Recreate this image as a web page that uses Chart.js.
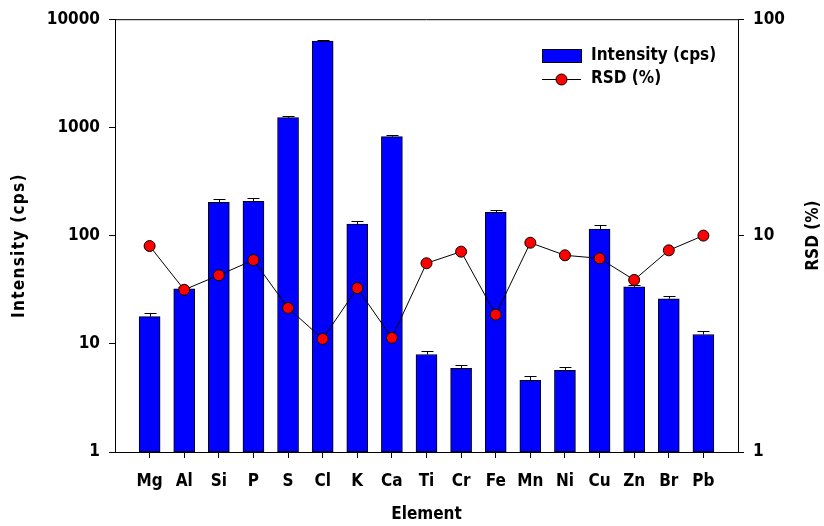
<!DOCTYPE html>
<html>
<head>
<meta charset="utf-8">
<script src="https://cdn.jsdelivr.net/npm/chart.js@4.4.1/dist/chart.umd.min.js"></script>
<style>
    html, body {margin: 0; padding: 0; background: #fff;}
    #wrap {width: 824px; height: 526px; position: relative;}
</style>
</head>
<body>
<div id="wrap"><canvas id="elementChart"></canvas></div>
<script>
// ── data ──────────────────────────────────────────────────
const elements = ['Mg', 'Al', 'Si', 'P', 'S', 'Cl', 'K', 'Ca', 'Ti', 'Cr', 'Fe', 'Mn', 'Ni', 'Cu', 'Zn', 'Br', 'Pb'];
const intensity = [17.8, 32.2, 203, 207, 1230, 6280, 128, 822, 7.96, 5.92, 164, 4.59, 5.68, 115, 33.6, 26.1, 12.2];
const intensityErr = [1.6, 1.2, 14, 15, 45, 150, 7, 25, 0.7, 0.5, 7, 0.45, 0.45, 10, 1.5, 1.8, 1.0];
const rsd = [8.95, 5.62, 6.56, 7.71, 4.63, 3.33, 5.72, 3.37, 7.45, 8.43, 4.31, 9.27, 8.11, 7.85, 6.24, 8.55, 10.0];
const leftTicks = [1, 10, 100, 1000, 10000];
const rightTicks = [1, 10, 100];

const FONT = '"DejaVu Sans Condensed", "DejaVu Sans", sans-serif';
const boldFont = size => ({family: FONT, size: size, weight: 'bold'});

// ── error bars (upper whisker only, the bar hides the lower half) ──
const errorBars = {
    id: 'errorBars',
    afterDatasetDraw(chart, args) {
        if (args.index !== 0) return;
        const {ctx, scales: {x, y}} = chart;
        ctx.save();
        ctx.strokeStyle = '#000';
        ctx.lineWidth = 1;
        intensity.forEach((v, i) => {
            const px = Math.round(x.getPixelForValue(i + 1)) + 0.5;
            const y0 = y.getPixelForValue(v);
            const y1 = Math.round(y.getPixelForValue(v + intensityErr[i])) + 0.5;
            ctx.beginPath();
            ctx.moveTo(px, y0);
            ctx.lineTo(px, y1);
            ctx.moveTo(px - 6, y1);
            ctx.lineTo(px + 6, y1);
            ctx.stroke();
        });
        ctx.restore();
    }
};

// ── frame top line, y titles and in-plot legend ──
const decorations = {
    id: 'decorations',
    afterDraw(chart) {
        const {ctx, chartArea: a} = chart;
        ctx.save();
        ctx.strokeStyle = '#000';
        ctx.lineWidth = 1;
        ctx.beginPath();
        ctx.moveTo(a.left, a.top + 0.5);
        ctx.lineTo(a.right, a.top + 0.5);
        ctx.stroke();

        // both y titles read bottom-to-top
        ctx.fillStyle = '#000';
        ctx.font = 'bold 17px ' + FONT;
        ctx.textAlign = 'center';
        ctx.textBaseline = 'middle';
        ctx.save();
        ctx.translate(814, (a.top + a.bottom) / 2);
        ctx.rotate(-Math.PI / 2);
        ctx.fillText('RSD (%)', 0, 0);
        ctx.restore();
        ctx.save();
        ctx.translate(20, (a.top + a.bottom) / 2 + 10);
        ctx.rotate(-Math.PI / 2);
        ctx.letterSpacing = '1.3px';
        ctx.fillText('Intensity (cps)', 0, 0);
        ctx.restore();

        // legend
        const lx = a.right - 196, ly = 49;
        const bar = chart.data.datasets[0], line = chart.data.datasets[1];
        ctx.fillStyle = bar.backgroundColor;
        ctx.fillRect(lx, ly, 39, 13);
        ctx.strokeRect(lx + 0.5, ly + 0.5, 39, 13);
        ctx.beginPath();
        ctx.moveTo(lx, ly + 30.5);
        ctx.lineTo(lx + 39, ly + 30.5);
        ctx.stroke();
        ctx.beginPath();
        ctx.arc(lx + 19.5, ly + 30.5, line.pointRadius, 0, Math.PI * 2);
        ctx.fillStyle = line.pointBackgroundColor;
        ctx.fill();
        ctx.stroke();
        ctx.fillStyle = '#000';
        ctx.textAlign = 'left';
        ctx.fillText(bar.label, lx + 49, ly + 7);
        ctx.fillText(line.label, lx + 49, ly + 30);
        ctx.restore();
    }
};

const canvas = document.getElementById('elementChart');
new Chart(canvas, {
    data: {
        datasets: [
            {
                type: 'bar',
                label: 'Intensity (cps)',
                data: intensity.map((v, i) => ({x: i + 1, y: v})),
                backgroundColor: '#0000ff',
                borderColor: '#000',
                borderWidth: 1,
                borderSkipped: false,
                barThickness: 21,
                yAxisID: 'y',
                order: 1
            },
            {
                type: 'line',
                label: 'RSD (%)',
                data: rsd.map((v, i) => ({x: i + 1, y: v})),
                borderColor: '#000',
                borderWidth: 1,
                tension: 0,
                pointRadius: 5.5,
                pointBackgroundColor: '#ff0000',
                pointBorderColor: '#000',
                pointBorderWidth: 1,
                yAxisID: 'y1',
                order: 0
            }
        ]
    },
    options: {
        responsive: true,
        maintainAspectRatio: false,
        animation: false,
        layout: {padding: {top: 17, left: 0, right: 0, bottom: 0}},
        plugins: {legend: {display: false}, tooltip: {enabled: false}},
        scales: {
            x: {
                type: 'linear',
                offset: false,
                min: 0,
                max: elements.length + 1,
                afterBuildTicks: s => { s.ticks = elements.map((_, i) => ({value: i + 1})); },
                afterFit: s => { s.height = 74; },
                ticks: {
                    autoSkip: false,
                    maxRotation: 0,
                    color: '#000',
                    font: boldFont(17),
                    padding: 13,
                    callback: v => elements[v - 1]
                },
                grid: {drawOnChartArea: false, offset: false, tickLength: 6, color: '#000'},
                border: {color: '#000', width: 1},
                title: {display: true, text: 'Element', color: '#000', font: boldFont(17), padding: {bottom: 1}}
            },
            y: {
                type: 'logarithmic',
                position: 'left',
                min: 1,
                max: 10000,
                afterBuildTicks: s => { s.ticks = leftTicks.map(v => ({value: v})); },
                afterFit: s => { s.width = 115; },
                ticks: {color: '#000', font: boldFont(17), padding: 9, callback: v => String(v)},
                grid: {drawOnChartArea: false, tickLength: 6, color: '#000'},
                border: {color: '#000', width: 1}
            },
            y1: {
                type: 'logarithmic',
                position: 'right',
                min: 1,
                max: 100,
                afterBuildTicks: s => { s.ticks = rightTicks.map(v => ({value: v})); },
                afterFit: s => { s.width = 86; },
                ticks: {color: '#000', font: boldFont(17), padding: 9, callback: v => String(v)},
                grid: {drawOnChartArea: false, tickLength: 6, color: '#000'},
                border: {color: '#000', width: 1}
            }
        }
    },
    plugins: [errorBars, decorations]
});
</script>
</body>
</html>
